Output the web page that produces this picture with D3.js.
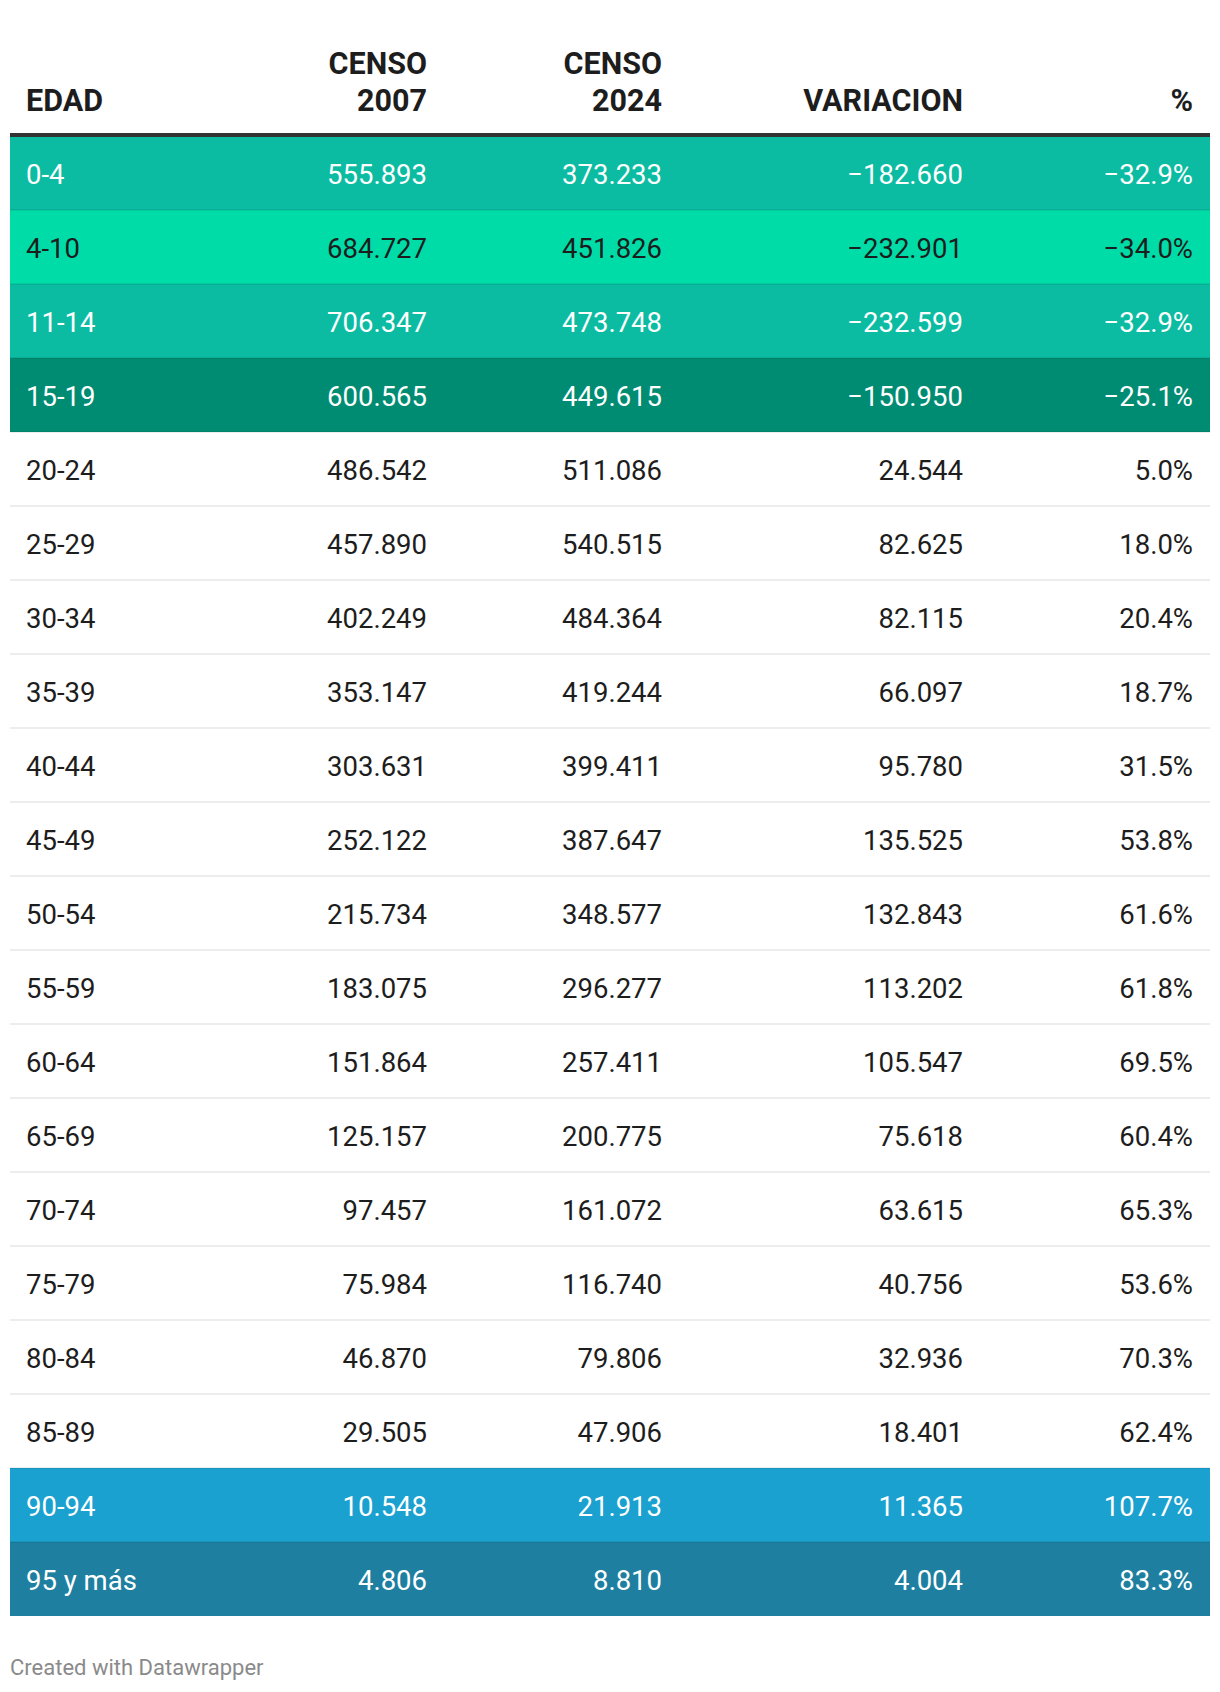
<!DOCTYPE html>
<html>
<head>
<meta charset="utf-8">
<script src="https://cdn.jsdelivr.net/npm/d3@7"></script>
<style>
  html, body { margin: 0; padding: 0; background: #ffffff; }
  svg { display: block; }
  text { font-family: Roboto, "Noto Sans", sans-serif; }
</style>
</head>
<body>
<svg id="chart"></svg>
<script>
// ---- Data ----
const edades = ["0-4","4-10","11-14","15-19","20-24","25-29","30-34","35-39","40-44","45-49","50-54","55-59","60-64","65-69","70-74","75-79","80-84","85-89","90-94","95 y más"];
const censo2007 = [555893,684727,706347,600565,486542,457890,402249,353147,303631,252122,215734,183075,151864,125157,97457,75984,46870,29505,10548,4806];
const censo2024 = [373233,451826,473748,449615,511086,540515,484364,419244,399411,387647,348577,296277,257411,200775,161072,116740,79806,47906,21913,8810];
const variacion = [-182660,-232901,-232599,-150950,24544,82625,82115,66097,95780,135525,132843,113202,105547,75618,63615,40756,32936,18401,11365,4004];
const porcentaje = [-32.9,-34.0,-32.9,-25.1,5.0,18.0,20.4,18.7,31.5,53.8,61.6,61.8,69.5,60.4,65.3,53.6,70.3,62.4,107.7,83.3];
const encabezados = [["EDAD"],["CENSO","2007"],["CENSO","2024"],["VARIACION"],["%"]];
const resaltados = {"0-4":"#0bbca2","4-10":"#00dca8","11-14":"#0bbca2","15-19":"#008c72","90-94":"#1aa1cf","95 y más":"#1e7fa0"};
const textoOscuro = ["4-10"];

// ---- Layout ----
const W = 1220, H = 1692;
const tableLeft = 10, tableRight = 1210;
const rowsTop = 136, rowsBottom = 1616;
const svg = d3.select("#chart").attr("width", W).attr("height", H);

const y = d3.scaleBand().domain(edades).range([rowsTop, rowsBottom]).padding(0);

const fmtInt = v => {
  const s = d3.format(",d")(Math.abs(v)).replace(/,/g, ".");
  return (v < 0 ? "\u2212" : "") + s;
};
const fmtPct = v => (v < 0 ? "\u2212" : "") + d3.format(".1f")(Math.abs(v)) + "%";

const columns = [
  {x: 26, anchor: "start", get: i => edades[i]},
  {x: 427, anchor: "end", get: i => fmtInt(censo2007[i])},
  {x: 662, anchor: "end", get: i => fmtInt(censo2024[i])},
  {x: 963, anchor: "end", get: i => fmtInt(variacion[i])},
  {x: 1193, anchor: "end", get: i => fmtPct(porcentaje[i])}
];

// Header
const head = svg.append("g");
columns.forEach((c, ci) => {
  const lines = encabezados[ci];
  lines.forEach((ln, li) => {
    head.append("text")
      .attr("x", c.x)
      .attr("y", 110.5 - (lines.length - 1 - li) * 36.7)
      .attr("text-anchor", c.anchor)
      .attr("font-size", 30.5)
      .attr("font-weight", 700)
      .attr("fill", "#1d1d1d")
      .text(ln);
  });
});

// Rows
const rows = svg.append("g").selectAll("g.row")
  .data(edades.map((e, i) => ({e, i})))
  .join("g").attr("class", "row");

rows.append("rect")
  .attr("x", tableLeft)
  .attr("width", tableRight - tableLeft)
  .attr("y", d => y(d.e))
  .attr("height", y.bandwidth())
  .attr("fill", d => resaltados[d.e] || "#ffffff");

rows.filter(d => d.i > 0).append("rect")
  .attr("x", tableLeft)
  .attr("width", tableRight - tableLeft)
  .attr("y", d => y(d.e) - 1)
  .attr("height", 2)
  .attr("fill", "rgba(0,0,0,0.07)");

columns.forEach(c => {
  rows.append("text")
    .attr("x", c.x)
    .attr("y", d => y(d.e) + y.bandwidth() / 2 + 11)
    .attr("text-anchor", c.anchor)
    .attr("font-size", 27.5)
    .attr("fill", d => (resaltados[d.e] && !textoOscuro.includes(d.e)) ? "#ffffff" : "#1d1d1d")
    .text(d => c.get(d.i));
});

// Header rule
svg.append("rect")
  .attr("x", tableLeft).attr("width", tableRight - tableLeft)
  .attr("y", 133).attr("height", 4)
  .attr("fill", "#333333");

// Footer
svg.append("text")
  .attr("x", 10).attr("y", 1675)
  .attr("font-size", 22)
  .attr("fill", "#8a8a8a")
  .text("Created with Datawrapper");
</script>
</body>
</html>
